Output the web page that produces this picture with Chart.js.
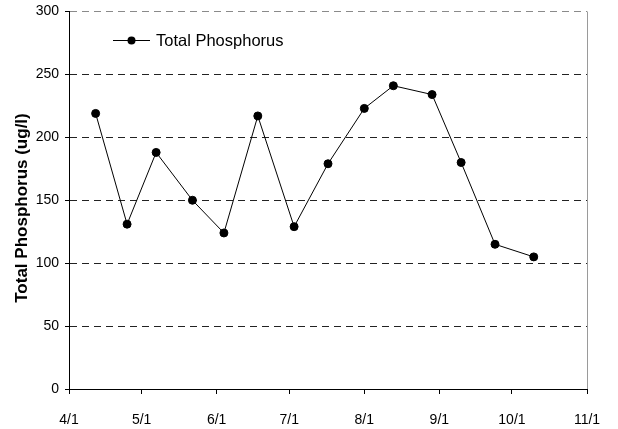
<!DOCTYPE html>
<html>
<head>
<meta charset="utf-8">
<script src="https://cdn.jsdelivr.net/npm/chart.js@4/dist/chart.umd.min.js"></script>
<style>
html,body{margin:0;padding:0;background:#fff;}
#wrap{width:618px;height:429px;position:relative;}
</style>
</head>
<body>
<div id="wrap"><canvas id="c" width="618" height="429"></canvas></div>
<script>
// Data
const sampleDates = ["04-12","04-25","05-07","05-22","06-04","06-18","07-03","07-17","08-01","08-13","08-29","09-10","09-24","10-10"];
const phosphorus = [219, 131, 188, 150, 124, 217, 129, 179, 223, 241, 234, 180, 115, 105];
const xTickDates = ["04-01","05-01","06-01","07-01","08-01","09-01","10-01","11-01"];
const xTickLabels = ["4/1","5/1","6/1","7/1","8/1","9/1","10/1","11/1"];
const seriesName = "Total Phosphorus";
const yTitle = "Total Phosphorus (ug/l)";

function dayNum(md){
  const [m,d] = md.split("-").map(Number);
  return (Date.UTC(2000,m-1,d) - Date.UTC(2000,3,1)) / 86400000;
}
const xTickVals = xTickDates.map(dayNum);
const points = sampleDates.map((d,i)=>({x:dayNum(d), y:phosphorus[i]}));

const FONT = "'Liberation Sans', Arial, sans-serif";

const extras = {
  id:'extras',
  afterDatasetsDraw(chart){
    const {ctx, chartArea:a} = chart;
    ctx.save();
    ctx.setLineDash([]);
    ctx.lineWidth = 1;
    // right border
    ctx.strokeStyle = '#9a9a9a';
    ctx.beginPath();
    ctx.moveTo(Math.round(a.right)+0.5, a.top);
    ctx.lineTo(Math.round(a.right)+0.5, a.bottom);
    ctx.stroke();
    // solid axis lines (left, bottom)
    ctx.strokeStyle = '#000';
    ctx.beginPath();
    ctx.moveTo(Math.round(a.left)+0.5, a.top);
    ctx.lineTo(Math.round(a.left)+0.5, Math.round(a.bottom)+0.5);
    ctx.lineTo(Math.round(a.right)+1, Math.round(a.bottom)+0.5);
    ctx.stroke();
    // legend
    const ly = 40, lx0 = 113, lx1 = 150;
    ctx.beginPath(); ctx.moveTo(lx0, ly+0.5); ctx.lineTo(lx1, ly+0.5); ctx.stroke();
    ctx.fillStyle = '#000';
    ctx.beginPath(); ctx.arc((lx0+lx1)/2, ly+0.5, 4, 0, Math.PI*2); ctx.fill();
    ctx.font = "16.5px " + FONT;
    ctx.textBaseline = 'middle';
    ctx.fillText(seriesName, 156, ly+1);
    // y axis title
    ctx.translate(22, 208);
    ctx.rotate(-Math.PI/2);
    ctx.font = "bold 17px " + FONT;
    ctx.textAlign = 'center';
    ctx.textBaseline = 'middle';
    ctx.fillText(yTitle, 0, 0);
    ctx.restore();
  }
};

new Chart(document.getElementById('c'), {
  type:'line',
  data:{
    datasets:[{
      label: seriesName,
      data: points,
      borderColor:'#000',
      backgroundColor:'#000',
      borderWidth:1,
      pointRadius:4,
      pointHoverRadius:4,
      pointBackgroundColor:'#000',
      pointBorderColor:'#000',
      tension:0
    }]
  },
  options:{
    responsive:false,
    animation:false,
    devicePixelRatio:1,
    layout:{padding:{top:11.5, right:31, left:0, bottom:0}},
    plugins:{legend:{display:false}, tooltip:{enabled:false}},
    scales:{
      x:{
        type:'linear',
        min:xTickVals[0], max:xTickVals[xTickVals.length-1],
        afterBuildTicks(ax){ ax.ticks = xTickVals.map(v=>({value:v})); },
        afterFit(ax){ ax.height = 40; ax.paddingLeft = 0; ax.paddingRight = 0; },
        ticks:{
          autoSkip:false, maxRotation:0,
          color:'#000', font:{family:FONT, size:14}, padding:18,
          callback(v){ const i = xTickVals.indexOf(v); return i>=0 ? xTickLabels[i] : ''; }
        },
        grid:{drawOnChartArea:false, drawTicks:true, tickLength:5, tickColor:'#000', color:'#000'},
        border:{color:'#000', width:1}
      },
      y:{
        min:0, max:300,
        afterFit(ax){ ax.width = 69; ax.paddingTop = 0; ax.paddingBottom = 0; },
        ticks:{stepSize:50, color:'#000', font:{family:FONT, size:14}, padding:6},
        grid:{
          color:(c)=> c.tick && c.tick.value===300 ? '#8a8a8a' : '#222',
          tickBorderDash:[], tickColor:'#000', tickLength:4, lineWidth:1
        },
        border:{color:'#000', width:1, dash:[7,5]},
        title:{display:false}
      }
    }
  },
  plugins:[extras]
});
</script>
</body>
</html>
